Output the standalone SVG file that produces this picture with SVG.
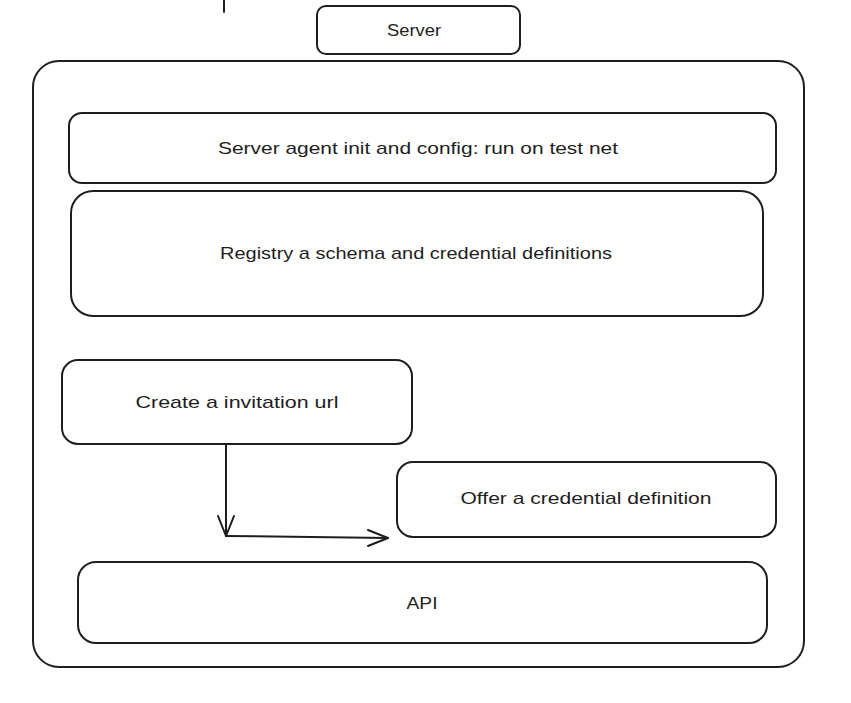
<svg xmlns="http://www.w3.org/2000/svg" width="851" height="703" viewBox="0 0 851 703">
  <style>
    .box { fill: #ffffff; stroke: #1e1e1e; stroke-width: 2; }
    .lbl { font-family: "Liberation Sans", "DejaVu Sans", sans-serif; font-size: 17px; fill: #1e1e1e; text-anchor: middle; dominant-baseline: central; }
    .edge { fill: none; stroke: #1e1e1e; stroke-width: 2; stroke-linecap: round; stroke-linejoin: round; }
  </style>
  <rect width="851" height="703" fill="#ffffff"/>

  <g id="server-title">
    <rect class="box" x="317" y="6" width="203" height="48" rx="9"/>
    <text class="lbl" x="414" y="30" textLength="54" lengthAdjust="spacingAndGlyphs">Server</text>
  </g>

  <g id="server-container">
    <rect class="box" x="33" y="61" width="771" height="606" rx="26"/>
  </g>

  <g id="agent-init">
    <rect class="box" x="69" y="113" width="707" height="70" rx="13"/>
    <text class="lbl" x="418" y="148" textLength="400" lengthAdjust="spacingAndGlyphs">Server agent init and config: run on test net</text>
  </g>

  <g id="registry">
    <rect class="box" x="71" y="191" width="692" height="125" rx="22"/>
    <text class="lbl" x="416" y="253" textLength="392" lengthAdjust="spacingAndGlyphs">Registry a schema and credential definitions</text>
  </g>

  <g id="invitation">
    <rect class="box" x="62" y="360" width="350" height="84" rx="16"/>
    <text class="lbl" x="237" y="402" textLength="203" lengthAdjust="spacingAndGlyphs">Create a invitation url</text>
  </g>

  <g id="offer">
    <rect class="box" x="397" y="462" width="379" height="75" rx="16"/>
    <text class="lbl" x="586" y="498" textLength="251" lengthAdjust="spacingAndGlyphs">Offer a credential definition</text>
  </g>

  <g id="api">
    <rect class="box" x="78" y="562" width="689" height="81" rx="18"/>
    <text class="lbl" x="422" y="603" textLength="31" lengthAdjust="spacingAndGlyphs">API</text>
  </g>

  <g id="connectors">
    <path class="edge" d="M224 0 L224 12"/>
    <path class="edge" d="M226 444 L226 536"/>
    <path class="edge" d="M218 516 L226 536 L234 516"/>
    <path class="edge" d="M226 536 L388 538"/>
    <path class="edge" d="M368 530 L388 538 L368 546"/>
  </g>
</svg>
